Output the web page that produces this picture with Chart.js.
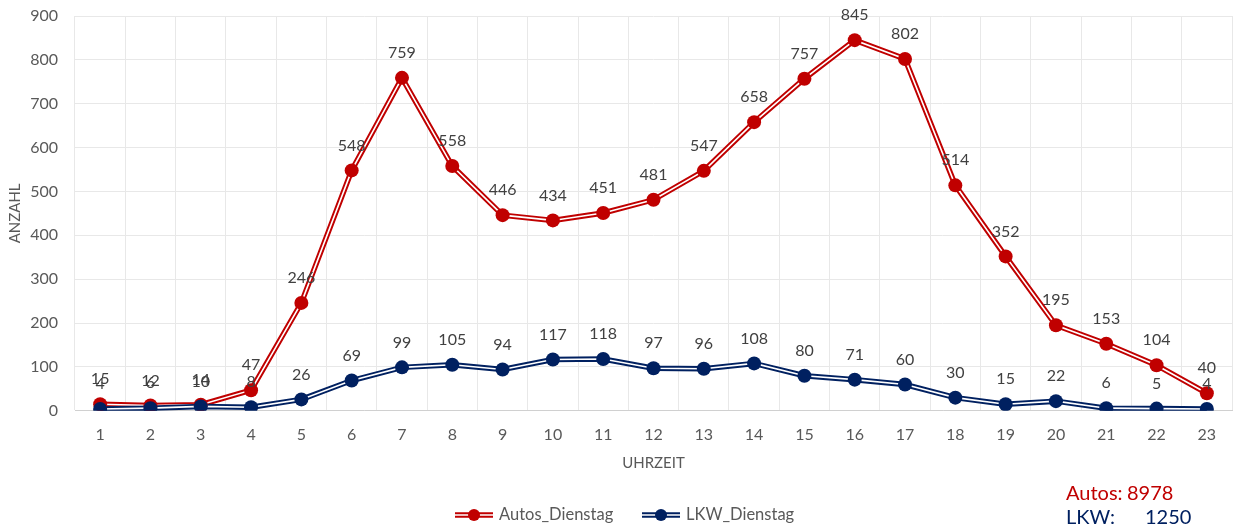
<!DOCTYPE html>
<html>
<head>
<meta charset="utf-8">
<script src="https://cdn.jsdelivr.net/npm/chart.js@4.4.1/dist/chart.umd.min.js"></script>
<style>
  html, body { margin: 0; padding: 0; background: #fff; }
  #wrap { width: 1242px; height: 531px; position: relative; }
</style>
</head>
<body>
<div id="wrap"><canvas id="verkehrChart"></canvas></div>
<script>
// Stunden (Uhrzeit)
const hours = ['1','2','3','4','5','6','7','8','9','10','11','12','13','14','15','16','17','18','19','20','21','22','23'];
const autosDienstag = [15, 12, 14, 47, 246, 548, 759, 558, 446, 434, 451, 481, 547, 658, 757, 845, 802, 514, 352, 195, 153, 104, 40];
const lkwDienstag = [4, 6, 10, 8, 26, 69, 99, 105, 94, 117, 118, 97, 96, 108, 80, 71, 60, 30, 15, 22, 6, 5, 4];
const yTicks = [0, 100, 200, 300, 400, 500, 600, 700, 800, 900];

const RED = '#C00000';
const BLUE = '#002060';
const FONT = 'Lato, Calibri, "Liberation Sans", sans-serif';

const sum = arr => arr.reduce((a, b) => a + b, 0);

// Excel-style "double" line: thick colored line, thin white line on top, markers above
function lineSet(label, data, color, order) {
  return { label, data, borderColor: color, borderWidth: 5.5, pointRadius: 0, tension: 0, order, fill: false };
}
function whiteSet(data, order) {
  return { label: '_white', data, borderColor: '#ffffff', borderWidth: 1.6, pointRadius: 0, tension: 0, order, fill: false };
}
function markerSet(label, data, color, order) {
  return { label: '_m_' + label, data, showLine: false, pointRadius: 7, pointBackgroundColor: color,
           pointBorderColor: color, pointBorderWidth: 0, order, isMarker: true };
}

// data labels above the markers + legend + totals
const extrasPlugin = {
  id: 'extras',
  afterDatasetsDraw(chart) {
    const ctx = chart.ctx;
    ctx.save();
    ctx.font = '16px ' + FONT;
    ctx.fillStyle = '#404040';
    ctx.textAlign = 'center';
    ctx.textBaseline = 'middle';
    chart.data.datasets.forEach((ds, i) => {
      if (!ds.isMarker) return;
      const meta = chart.getDatasetMeta(i);
      meta.data.forEach((pt, j) => {
        ctx.fillText(String(ds.data[j]), pt.x, pt.y - 25);
      });
    });
    ctx.restore();
  },
  afterDraw(chart) {
    const ctx = chart.ctx;
    ctx.save();
    // legend
    const items = [
      { text: 'Autos_Dienstag', color: RED, x: 455 },
      { text: 'LKW_Dienstag', color: BLUE, x: 642 }
    ];
    const ly = 515;
    items.forEach(it => {
      ctx.strokeStyle = it.color;
      ctx.lineWidth = 5.5;
      ctx.beginPath(); ctx.moveTo(it.x, ly); ctx.lineTo(it.x + 38, ly); ctx.stroke();
      ctx.strokeStyle = '#fff';
      ctx.lineWidth = 1.6;
      ctx.beginPath(); ctx.moveTo(it.x, ly); ctx.lineTo(it.x + 38, ly); ctx.stroke();
      ctx.fillStyle = it.color;
      ctx.beginPath(); ctx.arc(it.x + 19, ly, 6, 0, Math.PI * 2); ctx.fill();
      ctx.fillStyle = '#595959';
      ctx.font = '16.5px ' + FONT;
      ctx.textAlign = 'left';
      ctx.textBaseline = 'middle';
      ctx.fillText(it.text, it.x + 44, ly);
    });
    // totals
    ctx.font = '20px ' + FONT;
    ctx.textBaseline = 'middle';
    ctx.fillStyle = RED;
    ctx.fillText('Autos:', 1066, 494);
    ctx.fillText(String(sum(autosDienstag)), 1127, 494);
    ctx.fillStyle = BLUE;
    ctx.fillText('LKW:', 1066, 518);
    ctx.fillText(String(sum(lkwDienstag)), 1145, 518);
    ctx.restore();
  }
};

const ctx = document.getElementById('verkehrChart').getContext('2d');
window.verkehrChartObj = new Chart(ctx, {
  type: 'line',
  data: {
    labels: hours,
    datasets: [
      lineSet('Autos_Dienstag', autosDienstag, RED, 6),
      whiteSet(autosDienstag, 5),
      lineSet('LKW_Dienstag', lkwDienstag, BLUE, 4),
      whiteSet(lkwDienstag, 3),
      markerSet('Autos_Dienstag', autosDienstag, RED, 1),
      markerSet('LKW_Dienstag', lkwDienstag, BLUE, 0)
    ]
  },
  options: {
    responsive: true,
    maintainAspectRatio: false,
    animation: false,
    layout: { padding: { top: 16, right: 10, bottom: 55, left: 0 } },
    plugins: {
      legend: { display: false },
      tooltip: { enabled: false }
    },
    scales: {
      x: {
        offset: true,
        grid: { offset: true, color: '#e8e8e8', drawTicks: false },
        border: { color: '#d0d0d0' },
        ticks: { color: '#595959', font: { family: FONT, size: 16 }, padding: 14 },
        title: { display: true, text: 'UHRZEIT', color: '#595959', font: { family: FONT, size: 15 }, padding: { top: -4, bottom: 4 } }
      },
      y: {
        min: 0,
        max: 900,
        afterFit(scale) {
          scale.width = 75;
          scale.paddingTop = 0;
          scale.paddingBottom = 0;
        },
        afterBuildTicks(scale) { scale.ticks = yTicks.map(v => ({ value: v })); },
        grid: { color: '#e8e8e8', drawTicks: false },
        border: { display: false },
        ticks: { color: '#595959', font: { family: FONT, size: 16 }, padding: 17 },
        title: { display: true, text: 'ANZAHL', color: '#595959', font: { family: FONT, size: 15 }, padding: { top: 6, bottom: 0 } }
      }
    }
  },
  plugins: [extrasPlugin]
});
</script>
</body>
</html>
